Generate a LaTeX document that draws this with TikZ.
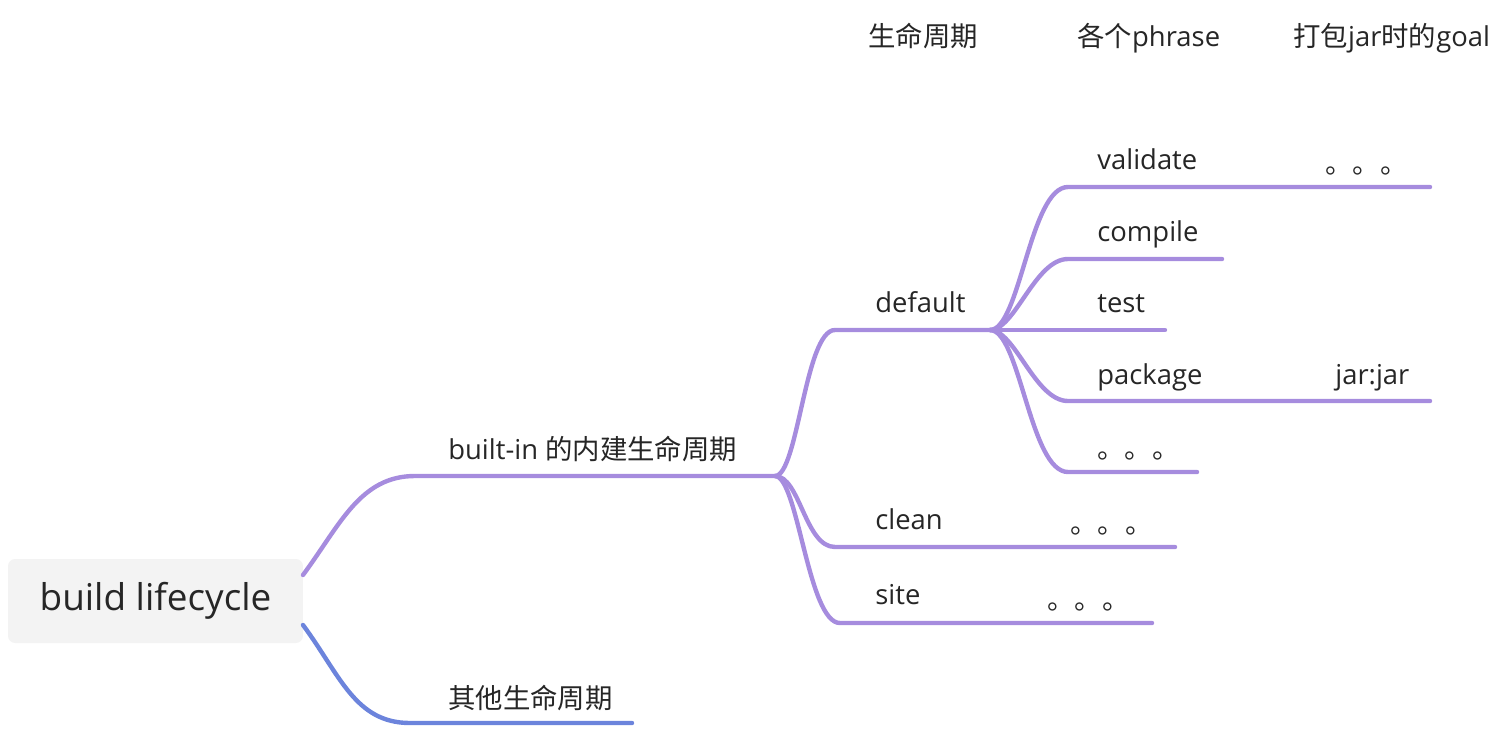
\documentclass[tikz,border=0pt]{standalone}
\usepackage{fontspec}
\setmainfont{Open Sans}
\newfontfamily\cjk{Noto Sans CJK SC}
\usetikzlibrary{positioning}
\definecolor{branchpurple}{RGB}{166,140,222}
\definecolor{branchblue}{RGB}{108,132,220}
\definecolor{rootgray}{RGB}{243,243,243}
\definecolor{inkgray}{RGB}{38,38,38}

\begin{document}
\begin{tikzpicture}[x=0.02cm,y=-0.02cm,
  topic/.style={anchor=base west,inner sep=0pt,text=inkgray,
                font=\fontsize{15.6}{18}\selectfont},
  branch/.style={line width=2.5pt,line cap=round,branchpurple},
  rootbox/.style={fill=rootgray,rounded corners=4pt,inner sep=0pt,
                  minimum width=5.9cm,minimum height=1.68cm,text=inkgray,
                  font=\fontsize{21}{24}\selectfont}]
\useasboundingbox (0,0) rectangle (1510,730);

% column titles
\node[topic] (hdlife) at (868,46) {\cjk 生命周期};
\node[topic] (hdphase) at (1077,46) {{\cjk 各个}phrase};
\node[topic] (hdgoal) at (1293,46) {{\cjk 打包}jar{\cjk 时的}goal};

% root
\node[rootbox] (root) at (155.5,601) {build lifecycle};

% first level
\node[topic] (builtin) at (448,459) {built-in {\cjk 的内建生命周期}};
\node[topic] (other) at (448,708) {\cjk 其他生命周期};

% lifecycles
\node[topic] (default) at (875,312) {default};
\node[topic] (clean) at (875,529) {clean};
\node[topic] (site) at (875,604) {site};
\node[topic] (cleandots) at (1070,533) {\cjk 。。。};
\node[topic] (sitedots) at (1047,609) {\cjk 。。。};

% phases
\node[topic] (validate) at (1097,169) {validate};
\node[topic] (compile) at (1097,241) {compile};
\node[topic] (test) at (1097,312) {test};
\node[topic] (package) at (1097,384) {package};
\node[topic] (phasedots) at (1097,458) {\cjk 。。。};
\node[topic] (validatedots) at (1325,173) {\cjk 。。。};
\node[topic] (jarjar) at (1335,384) {jar:jar};

% branch points
\coordinate (rootup) at (303,575);
\coordinate (rootdown) at (303,625);
\coordinate (hub) at (775,476);
\coordinate (hubdef) at (990,330);

\draw[branch] (rootup) .. controls (340,525) and (360,476) .. (415,476) -- (hub);
\draw[branch,branchblue] (rootdown) .. controls (340,675) and (355,723) .. (410,723) -- (632,723);

\draw[branch] (hub) .. controls (798,476) and (805,330) .. (835,330) -- (hubdef);
\draw[branch] (hub) .. controls (800,476) and (805,547) .. (835,547) -- (1175,547);
\draw[branch] (hub) .. controls (798,476) and (808,623) .. (840,623) -- (1152,623);

\draw[branch] (hubdef) .. controls (1020,330) and (1030,187) .. (1068,187) -- (1430,187);
\draw[branch] (hubdef) .. controls (1015,330) and (1035,259) .. (1068,259) -- (1222,259);
\draw[branch] (hubdef) -- (1165,330);
\draw[branch] (hubdef) .. controls (1015,330) and (1035,401) .. (1068,401) -- (1430,401);
\draw[branch] (hubdef) .. controls (1020,330) and (1030,472) .. (1068,472) -- (1197,472);
\end{tikzpicture}
\end{document}
